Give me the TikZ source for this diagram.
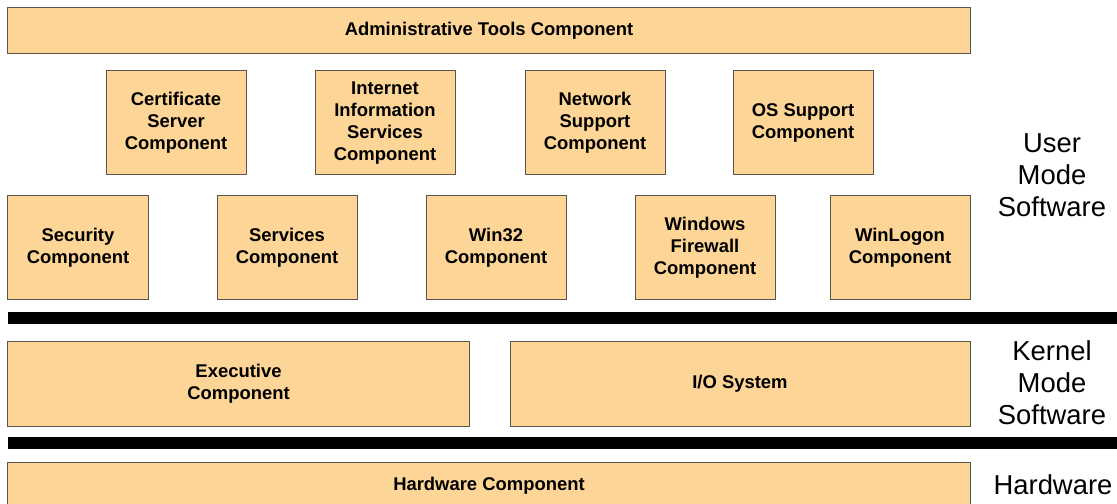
\documentclass[tikz,border=0pt]{standalone}
\usepackage{fontspec}
\setmainfont{Liberation Sans}
\definecolor{boxfill}{RGB}{253,213,151}
\definecolor{boxborder}{RGB}{90,84,74}
\begin{document}
\begin{tikzpicture}[x=1bp,y=-1bp,
  box/.style={draw=boxborder, fill=boxfill, line width=1bp, align=center, inner sep=0pt,
    font=\bfseries\fontsize{18.5}{22}\selectfont},
  sbox/.style={box, minimum width=140bp, minimum height=104bp},
  lbl/.style={align=center, inner sep=0pt, font=\fontsize{27.5}{32}\selectfont},
  bar/.style={fill=black}]
\useasboundingbox (0,0) rectangle (1117,504);
\clip (0,0) rectangle (1117,504);
\node[box, minimum width=962bp, minimum height=46bp] (admin) at (489,31) {Administrative Tools Component};
\node[sbox] (cert) at (176,123) {Certificate\\Server\\Component};
\node[sbox] (iis) at (385,123) {Internet\\Information\\Services\\Component};
\node[sbox] (net) at (595,123) {Network\\Support\\Component};
\node[sbox] (os) at (803,123) {OS Support\\Component};
\node[sbox] (sec) at (78,248) {Security\\Component};
\node[sbox] (svc) at (287,248) {Services\\Component};
\node[sbox] (w32) at (496,248) {Win32\\Component};
\node[sbox] (fw) at (705,248) {Windows\\Firewall\\Component};
\node[sbox] (wl) at (900,248) {WinLogon\\Component};
\fill[bar] (8,312) rectangle (1117,324);
\node[box, minimum width=461bp, minimum height=84bp] (exec) at (238.5,384) {Executive\\Component};
\node[box, minimum width=460bp, minimum height=84bp] (io) at (740,384) {I/O System};
\fill[bar] (8,437) rectangle (1117,449);
\node[box, minimum width=962bp, minimum height=48bp] (hw) at (489,486) {Hardware Component};
\node[lbl] (user) at (1052,175) {User\\Mode\\Software};
\node[lbl] (kernel) at (1052,383) {Kernel\\Mode\\Software};
\node[lbl] (hwl) at (1053,485) {Hardware};
\end{tikzpicture}
\end{document}
